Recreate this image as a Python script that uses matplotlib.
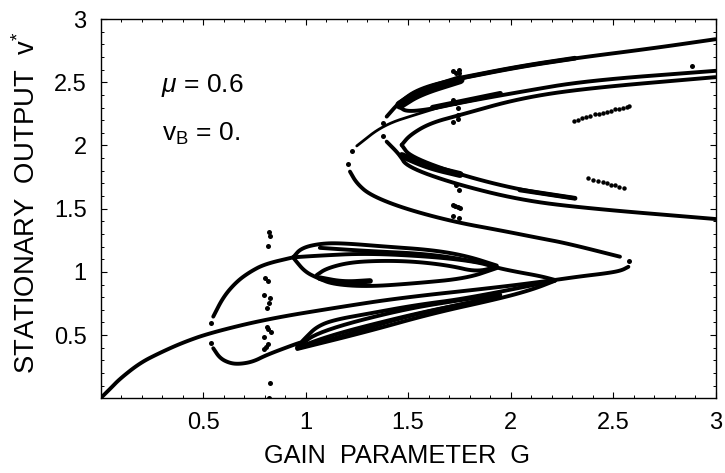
import numpy as np
import matplotlib
matplotlib.use('Agg')
import matplotlib.pyplot as plt

plt.rcParams['font.family'] = ['Liberation Sans', 'DejaVu Sans']
plt.rcParams['mathtext.fontset'] = 'custom'
plt.rcParams['mathtext.rm'] = 'Liberation Sans'
plt.rcParams['mathtext.it'] = 'Liberation Sans:italic'

# --- branches (G, v*) ---
g_main = [0, 0.05, 0.095, 0.193, 0.29, 0.40, 0.534, 0.812, 1.168, 1.46, 1.95, 2.217]
v_main = [0, 0.08, 0.155, 0.28, 0.36, 0.44, 0.517, 0.627, 0.722, 0.794, 0.88, 0.936]

g_tail = [2.217, 2.344, 2.469, 2.54, 2.575]
v_tail = [0.936, 0.965, 0.989, 1.01, 1.04]

g_arc_up = [0.55, 0.60, 0.664, 0.729, 0.802, 0.94]
v_arc_up = [0.646, 0.804, 0.923, 1.0, 1.062, 1.115]

g_mid = [0.94, 1.06, 1.30, 1.62, 1.835, 1.933, 2.03, 2.144, 2.217]
v_mid = [1.115, 1.128, 1.147, 1.12, 1.08, 1.033, 1.0, 0.967, 0.936]

g_outer_top = [0.94, 0.98, 1.08, 1.19, 1.39, 1.62, 1.786, 1.933]
v_outer_top = [1.115, 1.19, 1.226, 1.226, 1.2, 1.173, 1.126, 1.05]

g_second_top = [1.07, 1.30, 1.62, 1.884]
v_second_top = [1.19, 1.165, 1.14, 1.065]

g_outer_low = [0.94, 0.949, 0.998, 1.062, 1.135, 1.30, 1.54, 1.786, 1.933]
v_outer_low = [1.115, 1.094, 1.0, 0.949, 0.902, 0.883, 0.91, 0.949, 1.03]

g_inner = [1.055, 1.103, 1.217, 1.378, 1.54, 1.705, 1.835, 1.933]
v_inner = [0.975, 1.028, 1.076, 1.089, 1.081, 1.049, 1.0, 1.04]

g_inner_low = [1.07, 1.185, 1.315]
v_inner_low = [0.95, 0.915, 0.928]

g_arc_low = [0.55, 0.583, 0.632, 0.68, 0.745, 0.81, 0.94, 0.973]
v_arc_low = [0.396, 0.316, 0.277, 0.271, 0.29, 0.343, 0.422, 0.44]

g_fan1 = [0.96, 1.30, 1.62, 1.95, 2.11, 2.217]
v_fan1 = [0.39, 0.527, 0.672, 0.79, 0.862, 0.93]

g_fan2 = [0.96, 1.005, 1.055, 1.135, 1.315, 1.54, 1.786, 2.217]
v_fan2 = [0.41, 0.487, 0.566, 0.619, 0.672, 0.738, 0.79, 0.93]

g_fan3 = [0.96, 1.06, 1.46, 1.786, 1.95]
v_fan3 = [0.40, 0.527, 0.699, 0.785, 0.82]

g_fan4 = [0.96, 1.20, 1.46, 1.786, 1.95]
v_fan4 = [0.395, 0.50, 0.635, 0.755, 0.805]

g_fan5 = [0.96, 1.10, 1.30, 1.62, 1.95]
v_fan5 = [0.40, 0.485, 0.575, 0.70, 0.80]

g_s = [1.217, 1.25, 1.315, 1.477, 1.72, 1.957, 2.144, 2.274, 2.534]
v_s = [1.793, 1.70, 1.608, 1.503, 1.397, 1.326, 1.266, 1.226, 1.12]

g_thin = [1.25, 1.38, 1.559, 1.72]
v_thin = [1.996, 2.162, 2.255, 2.334]

g_top = [1.396, 1.46, 1.558, 1.754, 2.045, 2.315, 2.697, 3]
v_top = [2.228, 2.346, 2.453, 2.532, 2.624, 2.69, 2.769, 2.84]

g_return = [1.46, 1.494, 1.607, 1.754, 2.045, 2.37, 3]
v_return = [2.302, 2.267, 2.286, 2.338, 2.423, 2.512, 2.59]

g_in_up = [1.469, 1.51, 1.607, 1.754, 2.045, 2.37, 3]
v_in_up = [2.004, 2.083, 2.176, 2.241, 2.373, 2.452, 2.54]

g_in_down = [1.469, 1.51, 1.754, 2.045, 2.315]
v_in_down = [2.004, 1.912, 1.767, 1.648, 1.582]

g_leg = [1.396, 1.46, 1.494, 1.72, 2.045, 2.37, 3]
v_leg = [2.03, 1.925, 1.832, 1.70, 1.569, 1.503, 1.418]

g_thick_a = [1.46, 1.558, 1.754]
v_thick_a = [2.32, 2.42, 2.52]

g_thick_b = [1.754, 2.045, 2.315]
v_thick_b = [2.532, 2.624, 2.69]

g_thick_c = [1.62, 1.74, 1.95]
v_thick_c = [2.30, 2.34, 2.41]

g_thick_d = [1.47, 1.60, 1.754]
v_thick_d = [1.92, 1.83, 1.77]

g_thick_e = [2.045, 2.315]
v_thick_e = [1.648, 1.582]

# isolated points
g_dots = [0.539, 0.539, 1.209, 1.228, 1.376, 1.376, 2.884, 2.578,
          0.822, 0.827, 0.816, 0.802, 0.816, 0.798, 0.828, 0.822, 0.811,
          0.81, 0.819, 0.832, 0.798, 0.819, 0.807, 0.798, 0.828, 0.822,
          1.72, 1.734, 1.75, 1.75, 1.718, 1.745, 1.745, 1.729, 1.745, 1.72,
          1.734, 1.75, 1.718, 1.73, 1.742, 1.754, 1.718, 1.747]
v_dots = [0.598, 0.44, 1.856, 1.956, 2.18, 2.078, 2.629, 1.086,
          1.313, 1.286, 1.207, 0.949, 0.93, 0.815, 0.796, 0.752, 0.717,
          0.566, 0.548, 0.522, 0.487, 0.427, 0.408, 0.392, 0.119, 0.005,
          2.592, 2.571, 2.597, 2.575, 2.184, 2.21, 2.24, 2.334, 2.30, 2.36,
          1.688, 1.648, 1.527, 1.52, 1.51, 1.503, 1.442, 1.429]

g_seg_up = [2.31, 2.33, 2.35, 2.37, 2.39, 2.41, 2.43, 2.45, 2.47, 2.49, 2.51, 2.53, 2.55, 2.57, 2.58]
v_seg_up = [2.19, 2.20, 2.215, 2.225, 2.235, 2.245, 2.25, 2.26, 2.265, 2.275, 2.285, 2.29, 2.295, 2.305, 2.31]

g_seg_low = [2.38, 2.40, 2.425, 2.45, 2.47, 2.49, 2.51, 2.53, 2.555]
v_seg_low = [1.74, 1.73, 1.72, 1.71, 1.70, 1.69, 1.685, 1.675, 1.665]

x_ticks = [0.5, 1, 1.5, 2, 2.5, 3]
x_labels = ['0.5', '1', '1.5', '2', '2.5', '3']
y_ticks = [0.5, 1, 1.5, 2, 2.5, 3]
y_labels = ['0.5', '1', '1.5', '2', '2.5', '3']


def rounded(g, v, n=3):
    # corner cutting so the traced branches do not look like polygons
    p = np.column_stack([g, v]).astype(float)
    for _ in range(n):
        q = 0.75 * p[:-1] + 0.25 * p[1:]
        r = 0.25 * p[:-1] + 0.75 * p[1:]
        mid = np.empty((2 * len(q), 2))
        mid[0::2] = q
        mid[1::2] = r
        p = np.vstack([p[0], mid, p[-1]])
    return p[:, 0], p[:, 1]


# --- figure ---
fig = plt.figure(figsize=(7.25, 4.73), dpi=100)
ax = fig.add_axes([100.5/725, (473-398.3)/473, 615/725, 379.3/473])

curves = [(g_main, v_main), (g_tail, v_tail), (g_arc_up, v_arc_up), (g_mid, v_mid),
          (g_outer_top, v_outer_top), (g_second_top, v_second_top),
          (g_outer_low, v_outer_low), (g_inner, v_inner), (g_arc_low, v_arc_low),
          (g_fan1, v_fan1), (g_fan2, v_fan2), (g_fan3, v_fan3), (g_fan4, v_fan4),
          (g_fan5, v_fan5), (g_s, v_s),
          (g_top, v_top), (g_return, v_return), (g_in_up, v_in_up),
          (g_in_down, v_in_down), (g_leg, v_leg)]
for g, v in curves:
    xs, ys = rounded(g, v)
    ax.plot(xs, ys, color='black', lw=2.8, solid_capstyle='round', solid_joinstyle='round')

xs, ys = rounded(g_thin, v_thin)
ax.plot(xs, ys, color='black', lw=2.0, solid_capstyle='round')

# the denser stretches of the branches look heavier
thick = [(g_inner_low, v_inner_low, 4.0), (g_thick_a, v_thick_a, 6.5), (g_thick_b, v_thick_b, 3.4),
         (g_thick_c, v_thick_c, 3.8), (g_thick_d, v_thick_d, 5.0), (g_thick_e, v_thick_e, 3.4)]
for g, v, w in thick:
    xs, ys = rounded(g, v)
    ax.plot(xs, ys, color='black', lw=w, solid_capstyle='round')

ax.plot(g_dots, v_dots, 'o', color='black', ms=3.6, mew=0, clip_on=True)
ax.plot(g_seg_up, v_seg_up, 'o', color='black', ms=3.2, mew=0)
ax.plot(g_seg_low, v_seg_low, 'o', color='black', ms=3.2, mew=0)

ax.set_xlim(0, 3)
ax.set_ylim(0, 3)
ax.set_xticks(x_ticks)
ax.set_xticklabels(x_labels)
ax.set_yticks(y_ticks)
ax.set_yticklabels(y_labels)
ax.set_xticks(np.arange(1, 30) / 10, minor=True)
ax.set_yticks(np.arange(1, 30) / 10, minor=True)
ax.tick_params(which='major', direction='in', length=4, width=0.8, top=True, right=True, labelsize=17, pad=10)
ax.tick_params(which='minor', direction='in', length=2.5, width=0.7, top=True, right=True)
for s in ax.spines.values():
    s.set_linewidth(1.0)

ax.text(0.295, 2.42, r'$\mu$ = 0.6', fontsize=19)
ax.text(0.30, 2.04, r'v$_{\mathrm{B}}$ = 0.', fontsize=19)

fig.text(397/725, 1-456/473, 'GAIN  PARAMETER  G', fontsize=18.3, ha='center', va='center')
fig.text(27/725, 1-203/473, r'STATIONARY  OUTPUT  v$^{*}$', fontsize=19.8, rotation=90, ha='center', va='center')

fig.savefig('out.png', dpi=100)
